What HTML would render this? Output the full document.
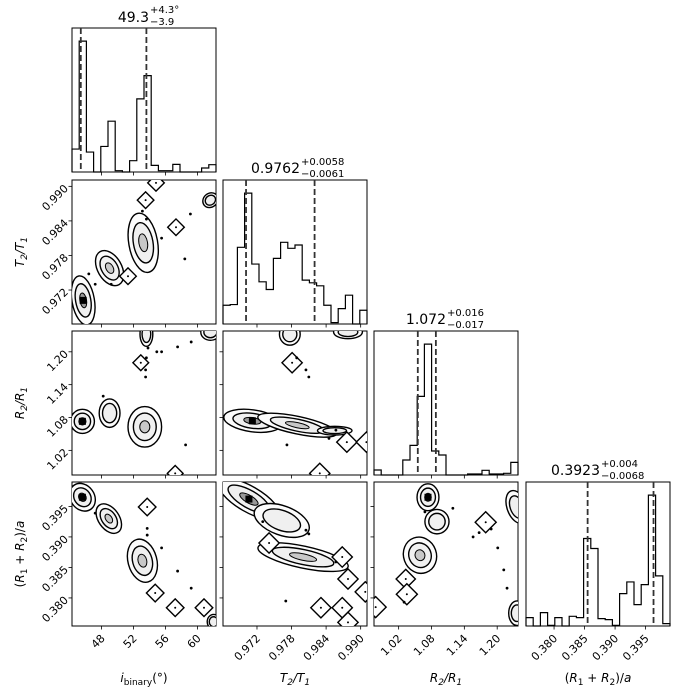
<!DOCTYPE html>
<html><head><meta charset="utf-8">
<style>
html,body{margin:0;padding:0;background:#fff;}
svg{display:block;font-family:"DejaVu Sans","Liberation Sans",sans-serif;}
</style></head>
<body>
<svg id="c" width="698" height="698" viewBox="0 0 698 698" xmlns="http://www.w3.org/2000/svg"></svg>
<script>
// ---- data ----
const varNames = ["i_binary", "T2/T1", "R2/R1", "(R1+R2)/a"];
const rangeLo = [44.3, 0.9661, 0.975, 0.3754];
const rangeHi = [62.3, 0.9911, 1.238, 0.3990];
const ticks0 = [48, 52, 56, 60];
const ticks1 = [0.972, 0.978, 0.984, 0.990];
const ticks2 = [1.02, 1.08, 1.14, 1.20];
const ticks3 = [0.380, 0.385, 0.390, 0.395];
const tickLabels0 = ["48", "52", "56", "60"];
const tickLabels1 = ["0.972", "0.978", "0.984", "0.990"];
const tickLabels2 = ["1.02", "1.08", "1.14", "1.20"];
const tickLabels3 = ["0.380", "0.385", "0.390", "0.395"];
const hist0 = [69,394,60,0,77,153,4,0,34,220,290,20,4,4,23,0,0,0,12,22];
const hist1 = [56,58,229,391,179,126,103,196,244,226,236,131,123,114,56,4,46,86,0,41];
const hist2 = [15,0,0,0,45,89,236,393,72,60,0,0,0,3,3,14,3,3,5,38];
const hist3 = [25,0,40,2,25,0,29,25,262,232,22,19,2,97,132,64,124,392,150,7];
const quant0 = [45.4, 53.6];
const quant1 = [0.9701, 0.9820];
const quant2 = [1.055, 1.088];
const quant3 = [0.3855, 0.3963];
// blobs: [x, y, rx, ry, rotDeg, level]  level 0 = diamond, 1 = contours, 2 = gray core, 3 = black core
const blobs10 = [[45.7,0.9702,1.4,0.0043,-10,3],[49.0,0.9758,1.5,0.0033,-30,2],[53.2,0.9802,1.8,0.0052,-10,2],
  [51.3,0.9744,0.5,0.0009,0,0],[53.5,0.9876,0.5,0.0009,0,0],[54.8,0.9906,0.5,0.0009,0,0],[57.3,0.9829,0.5,0.0009,0,0],[61.6,0.9876,1.0,0.0012,-40,1]];
const dots10 = [[46.4,0.9748],[47.2,0.9730],[49.2,0.9730],[58.4,0.9774],[53.1,0.9857],[53.6,0.9843],[55.5,0.9810],[59.1,0.9852]];
const blobs20 = [[45.6,1.073,1.5,0.022,0,3],[49.0,1.088,1.3,0.026,0,1],[53.4,1.063,2.1,0.037,0,2],[53.6,1.232,0.8,0.022,0,1],
  [61.6,1.236,1.2,0.015,0,1],[52.9,1.180,0.5,0.009,0,0],[57.2,0.978,0.5,0.009,0,0]];
const dots20 = [[53.5,1.167],[53.5,1.154],[58.5,1.030],[53.6,1.189],[53.8,1.207],[54.9,1.200],[55.5,1.200],[57.5,1.209],[59.2,1.218],[48.2,1.119]];
const blobs21 = [[0.9712,1.074,0.0050,0.020,8,3],[0.9790,1.066,0.0070,0.016,12,2],[0.9855,1.056,0.0030,0.008,0,1],[0.9777,1.232,0.0018,0.020,0,1],
  [0.9878,1.236,0.0025,0.012,0,1],[0.9781,1.180,0.0011,0.009,0,0],[0.9876,1.035,0.0011,0.009,0,0],[0.9910,1.035,0.0011,0.009,0,0],[0.9829,0.978,0.0011,0.009,0,0]];
const dots21 = [[0.9789,1.189],[0.9805,1.167],[0.9810,1.154],[0.9772,1.030],[0.9857,1.057],[0.9845,1.042]];
const blobs30 = [[45.6,0.3965,1.5,0.0024,-35,3],[48.9,0.3930,1.3,0.0027,-35,2],[53.1,0.3861,1.8,0.0036,-15,2],
  [53.7,0.3949,0.5,0.0009,0,0],[54.7,0.3808,0.5,0.0009,0,0],[57.2,0.3784,0.5,0.0009,0,0],[60.8,0.3784,0.5,0.0009,0,0],[62.0,0.3761,0.8,0.0012,0,1]];
const dots30 = [[53.7,0.3914],[53.7,0.3903],[47.2,0.3939],[57.5,0.3844],[59.2,0.3816],[55.5,0.3882]];
const blobs31 = [[0.9706,0.3962,0.0060,0.0021,30,3],[0.9763,0.3927,0.0050,0.0024,20,1],[0.9800,0.3867,0.0080,0.0018,12,2],
  [0.9741,0.3890,0.0011,0.0009,0,0],[0.9868,0.3867,0.0011,0.0009,0,0],[0.9878,0.3831,0.0011,0.0009,0,0],[0.9908,0.3810,0.0011,0.0009,0,0],
  [0.9831,0.3784,0.0011,0.0009,0,0],[0.9868,0.3784,0.0011,0.0009,0,0],[0.9878,0.3760,0.0011,0.0009,0,0]];
const dots31 = [[0.9770,0.3795],[0.9805,0.3911],[0.9810,0.3905],[0.9730,0.3925],[0.9857,0.3859]];
const blobs32 = [[1.0736,0.3965,0.020,0.0022,0,3],[1.090,0.3925,0.022,0.0020,0,1],[1.059,0.3870,0.030,0.0030,-20,2],
  [1.033,0.3831,0.011,0.0009,0,0],[1.035,0.3806,0.012,0.0010,0,0],[1.179,0.3924,0.012,0.0010,0,0],[0.978,0.3785,0.012,0.0010,0,0],
  [1.236,0.3949,0.018,0.0028,-20,1],[1.236,0.3775,0.015,0.0020,0,1]];
const dots32 = [[1.156,0.3900],[1.167,0.3907],[1.189,0.3913],[1.119,0.3947],[1.068,0.3941],[1.030,0.3793],[1.201,0.3882],[1.212,0.3846],[1.218,0.3816]];

// ---- layout ----
const NS = "http://www.w3.org/2000/svg";
const svg = document.getElementById("c");
const panelLeft = [72, 223, 374, 526];
const panelTop = [28, 180, 331, 482];
const S = 144;
const ticksAll = [ticks0, ticks1, ticks2, ticks3];
const tickLabelsAll = [tickLabels0, tickLabels1, tickLabels2, tickLabels3];
function el(tag, attrs, parent) {
  const e = document.createElementNS(NS, tag);
  for (const k in attrs) e.setAttribute(k, attrs[k]);
  (parent || svg).appendChild(e);
  return e;
}
function xScale(col, v) { return panelLeft[col] + (v - rangeLo[col]) / (rangeHi[col] - rangeLo[col]) * S; }
function yScale(row, v) { return panelTop[row] + S - (v - rangeLo[row]) / (rangeHi[row] - rangeLo[row]) * S; }

function axesBox(row, col, name, xt, yt) {
  const g = el("g", {});
  
  
  const x0 = panelLeft[col], y0 = panelTop[row];
  el("rect", {x: x0, y: y0, width: S, height: S, fill: "none", stroke: "#000", "stroke-width": 1}, g);
  if (xt) ticksAll[col].forEach(t => {
    const x = xScale(col, t);
    el("line", {x1: x, x2: x, y1: y0 + S, y2: y0 + S + 3.5, stroke: "#000", "stroke-width": 0.8}, g);
  });
  if (yt) ticksAll[row].forEach(t => {
    const y = yScale(row, t);
    el("line", {x1: x0 - 3.5, x2: x0, y1: y, y2: y, stroke: "#000", "stroke-width": 0.8}, g);
  });
  return g;
}

function drawHist(k, counts, quants, name) {
  const g = axesBox(k, k, name, true, false);
  const max = Math.max(...counts) * 1.1;
  const x0 = panelLeft[k], base = panelTop[k] + S;
  const n = counts.length, w = (rangeHi[k] - rangeLo[k]) / n;
  let d = "M" + x0 + "," + base;
  counts.forEach((c, i) => {
    const xa = xScale(k, rangeLo[k] + i * w), xb = xScale(k, rangeLo[k] + (i + 1) * w);
    const y = base - c / max * S;
    d += " L" + xa + "," + y + " L" + xb + "," + y;
  });
  d += " L" + (x0 + S) + "," + base;
  const p = el("path", {d: d, fill: "none", stroke: "#000", "stroke-width": 1.2}, g);
  
  
  quants.forEach(q => {
    const x = xScale(k, q);
    const l = el("line", {x1: x, x2: x, y1: panelTop[k], y2: base, stroke: "#333", "stroke-width": 1.8, "stroke-dasharray": "6,3"}, g);
    
    
  });
}

function drawPair(row, col, blobs, dots, name) {
  const g = axesBox(row, col, name, true, true);
  const cid = "clip" + row + col;
  const cp = el("clipPath", {id: cid}, g);
  el("rect", {x: panelLeft[col], y: panelTop[row], width: S, height: S}, cp);
  const inner = el("g", {"clip-path": "url(#" + cid + ")"}, g);
  const sx = S / (rangeHi[col] - rangeLo[col]), sy = S / (rangeHi[row] - rangeLo[row]);
  blobs.forEach(b => {
    const cx = xScale(col, b[0]), cy = yScale(row, b[1]);
    const rx = b[2] * sx, ry = b[3] * sy, rot = b[4], lv = b[5];
    const tr = "rotate(" + rot + " " + cx + " " + cy + ")";
    if (lv === 0) {
      const r = Math.max(rx, ry) * 1.6;
      const dm = el("polygon", {points: [cx, cy - r, cx + r, cy, cx, cy + r, cx - r, cy].join(" "), fill: "#fff", stroke: "#000", "stroke-width": 1.4}, inner);
      
      
      el("circle", {cx: cx, cy: cy, r: 1, fill: "#000"}, inner);
      return;
    }
    const e1 = el("ellipse", {cx: cx, cy: cy, rx: rx, ry: ry, transform: tr, fill: "#fcfcfc", stroke: "#000", "stroke-width": 1.4}, inner);
    
    
    const e2 = el("ellipse", {cx: cx, cy: cy, rx: rx * 0.68, ry: ry * 0.68, transform: tr, fill: "#f0f0f0", stroke: "#000", "stroke-width": 1.4}, inner);
    
    
    if (lv >= 2) el("ellipse", {cx: cx, cy: cy, rx: rx * 0.3, ry: ry * 0.3, transform: tr, fill: lv === 3 ? "#999" : "#c8c8c8", stroke: "#000", "stroke-width": 1}, inner);
    if (lv === 3) el("rect", {x: cx - 3.5, y: cy - 3.5, width: 7, height: 7, fill: "#000"}, inner);
  });
  dots.forEach(d => {
    const c = el("circle", {cx: xScale(col, d[0]), cy: yScale(row, d[1]), r: 1.4, fill: "#000"}, inner);
    
    
  });
}

drawHist(0, hist0, quant0, "hist-i-binary");
drawHist(1, hist1, quant1, "hist-t2-t1");
drawHist(2, hist2, quant2, "hist-r2-r1");
drawHist(3, hist3, quant3, "hist-r-sum-a");
drawPair(1, 0, blobs10, dots10, "contour-i-vs-t");
drawPair(2, 0, blobs20, dots20, "contour-i-vs-r");
drawPair(2, 1, blobs21, dots21, "contour-t-vs-r");
drawPair(3, 0, blobs30, dots30, "contour-i-vs-a");
drawPair(3, 1, blobs31, dots31, "contour-t-vs-a");
drawPair(3, 2, blobs32, dots32, "contour-r-vs-a");

// tick labels
for (let col = 0; col < 4; col++) {
  ticksAll[col].forEach((t, i) => {
    const x = xScale(col, t), y = panelTop[3] + S + 9;
    const tx = el("text", {x: x + 4, y: y + 4, "font-size": 11, "text-anchor": "end", transform: "rotate(-45 " + (x + 4) + " " + (y + 4) + ")"});
    tx.textContent = tickLabelsAll[col][i];
    
    
  });
}
for (let row = 1; row < 4; row++) {
  ticksAll[row].forEach((t, i) => {
    const y = yScale(row, t), x = panelLeft[0] - 6;
    const tx = el("text", {x: x, y: y + 4, "font-size": 11, "text-anchor": "end", transform: "rotate(-45 " + x + " " + y + ")"});
    tx.textContent = tickLabelsAll[row][i];
    
    
  });
}
</script>
<div style="position:absolute;left:0;top:0;width:698px;height:698px;pointer-events:none;">
<svg width="698" height="698" style="position:absolute;left:0;top:0" xmlns="http://www.w3.org/2000/svg">
  <g font-family="DejaVu Sans, Liberation Sans, sans-serif" fill="#000">
    <g>
      <text x="149" y="22" font-size="14" text-anchor="end">49.3</text>
      <text x="150" y="13" font-size="10">+4.3°</text>
      <text x="150" y="25" font-size="10">−3.9</text>
    </g>
    <g>
      <text x="300" y="173" font-size="14" text-anchor="end">0.9762</text>
      <text x="301" y="165" font-size="10">+0.0058</text>
      <text x="301" y="177" font-size="10">−0.0061</text>
    </g>
    <g>
      <text x="446" y="324" font-size="14" text-anchor="end">1.072</text>
      <text x="447" y="316" font-size="10">+0.016</text>
      <text x="447" y="328" font-size="10">−0.017</text>
    </g>
    <g>
      <text x="600" y="475" font-size="14" text-anchor="end">0.3923</text>
      <text x="601" y="467" font-size="10">+0.004</text>
      <text x="601" y="479" font-size="10">−0.0068</text>
    </g>
    <text x="144" y="682" font-size="12" text-anchor="middle"><tspan font-style="italic">i</tspan><tspan font-size="9" dy="3">binary</tspan><tspan dy="-3">(°)</tspan></text>
    <text x="295" y="682" font-size="12" text-anchor="middle" font-style="italic">T<tspan font-size="9" dy="3">2</tspan><tspan dy="-3">/T</tspan><tspan font-size="9" dy="3">1</tspan></text>
    <text x="446" y="682" font-size="12" text-anchor="middle" font-style="italic">R<tspan font-size="9" dy="3">2</tspan><tspan dy="-3">/R</tspan><tspan font-size="9" dy="3">1</tspan></text>
    <text x="598" y="682" font-size="12" text-anchor="middle">(<tspan font-style="italic">R</tspan><tspan font-size="9" dy="3">1</tspan><tspan dy="-3"> + </tspan><tspan font-style="italic">R</tspan><tspan font-size="9" dy="3">2</tspan><tspan dy="-3">)/</tspan><tspan font-style="italic">a</tspan></text>
    <text x="0" y="0" font-size="12" text-anchor="middle" font-style="italic" transform="translate(24 252) rotate(-90)">T<tspan font-size="9" dy="3">2</tspan><tspan dy="-3">/T</tspan><tspan font-size="9" dy="3">1</tspan></text>
    <text x="0" y="0" font-size="12" text-anchor="middle" font-style="italic" transform="translate(24 403) rotate(-90)">R<tspan font-size="9" dy="3">2</tspan><tspan dy="-3">/R</tspan><tspan font-size="9" dy="3">1</tspan></text>
    <text x="0" y="0" font-size="12" text-anchor="middle" transform="translate(24 554) rotate(-90)">(<tspan font-style="italic">R</tspan><tspan font-size="9" dy="3">1</tspan><tspan dy="-3"> + </tspan><tspan font-style="italic">R</tspan><tspan font-size="9" dy="3">2</tspan><tspan dy="-3">)/</tspan><tspan font-style="italic">a</tspan></text>
  </g>
</svg>
</div>
</body></html>
